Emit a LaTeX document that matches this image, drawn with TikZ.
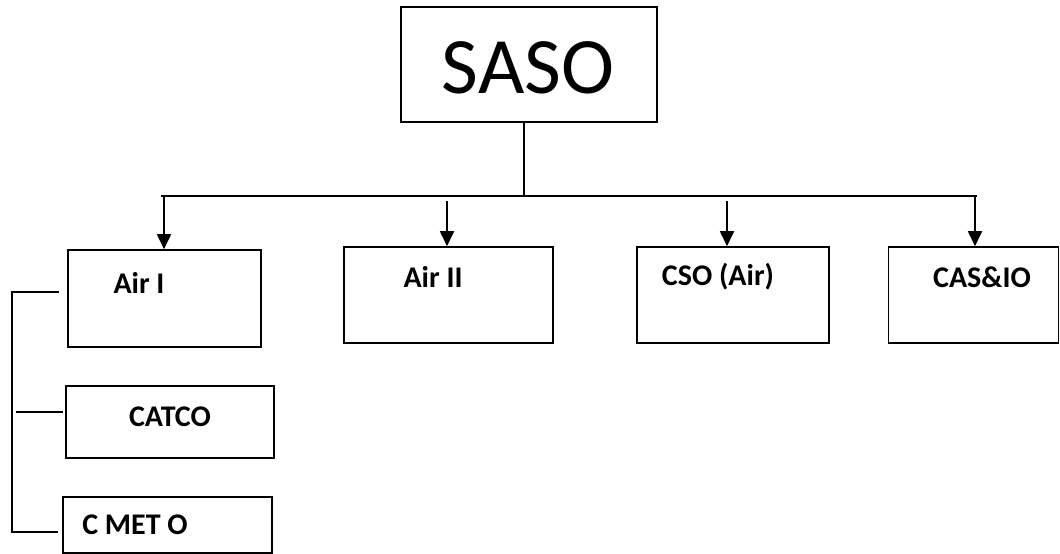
\documentclass[tikz,border=0pt]{standalone}
\usepackage{fontspec}
\setmainfont{Carlito}
\usetikzlibrary{arrows.meta}
\begin{document}
\begin{tikzpicture}[x=1pt,y=-1pt,
  box/.style={draw=black,line width=1.6pt,rectangle,inner sep=0pt},
  lbl/.style={font=\fontsize{30}{32}\selectfont\bfseries,inner sep=0pt},
  conn/.style={line width=1.6pt},
  arr/.style={line width=1.8pt,-{Triangle[width=14pt,length=15pt]}}]
\useasboundingbox (0,0) rectangle (1060,554);
% top box
\node[box,minimum width=256pt,minimum height=115pt] (saso) at (529,64.5) {};
\node[font=\fontsize{80}{81}\selectfont,inner sep=0pt] (sasot) at (528,68) {SASO};
% second level boxes
\node[box,minimum width=193pt,minimum height=97pt] (air1) at (164.5,298.5) {};
\node[box,minimum width=209pt,minimum height=96pt] (air2) at (448.5,295) {};
\node[box,minimum width=192pt,minimum height=96pt] (cso) at (733,295) {};
\node[box,minimum width=170pt,minimum height=96pt] (casio) at (973.5,295) {};
\node[lbl] (air1t) at (139,283) {Air I};
\node[lbl] (air2t) at (433,277) {Air II};
\node[lbl] (csot) at (718,277) {CSO (Air)};
\node[lbl] (casiot) at (982,277) {CAS\&IO};
% third level boxes
\node[box,minimum width=208pt,minimum height=72pt] (catco) at (170,422) {};
\node[box,minimum width=209pt,minimum height=56pt] (cmet) at (167.5,525) {};
\node[lbl] (catcot) at (170,417) {CATCO};
\node[lbl] (cmett) at (135,525) {C MET O};
% bus
\coordinate (busL) at (161,196);
\coordinate (busR) at (977,196);
\coordinate (busM) at (524,196);
\draw[conn] (saso.south -| busM) -- (busM);
\draw[conn] (busL) -- (busR);
% arrows
\coordinate (a1) at (164,196);
\coordinate (a2) at (447,201);
\coordinate (a3) at (727,201);
\coordinate (a4) at (975,196);
\draw[arr] (a1) -- (a1 |- air1.north);
\draw[arr] (a2) -- (a2 |- air2.north);
\draw[arr] (a3) -- (a3 |- cso.north);
\draw[arr] (a4) -- (a4 |- casio.north);
% left bracket
\coordinate (bt1) at (59,292);
\coordinate (bt0) at (12,292);
\coordinate (bb0) at (12,532);
\coordinate (bb1) at (58,532);
\coordinate (bm0) at (16,412);
\coordinate (bm1) at (63,412);
\draw[conn] (bt1) -- (bt0) -- (bb0) -- (bb1);
\draw[conn] (bm0) -- (bm1);
\end{tikzpicture}
\end{document}
